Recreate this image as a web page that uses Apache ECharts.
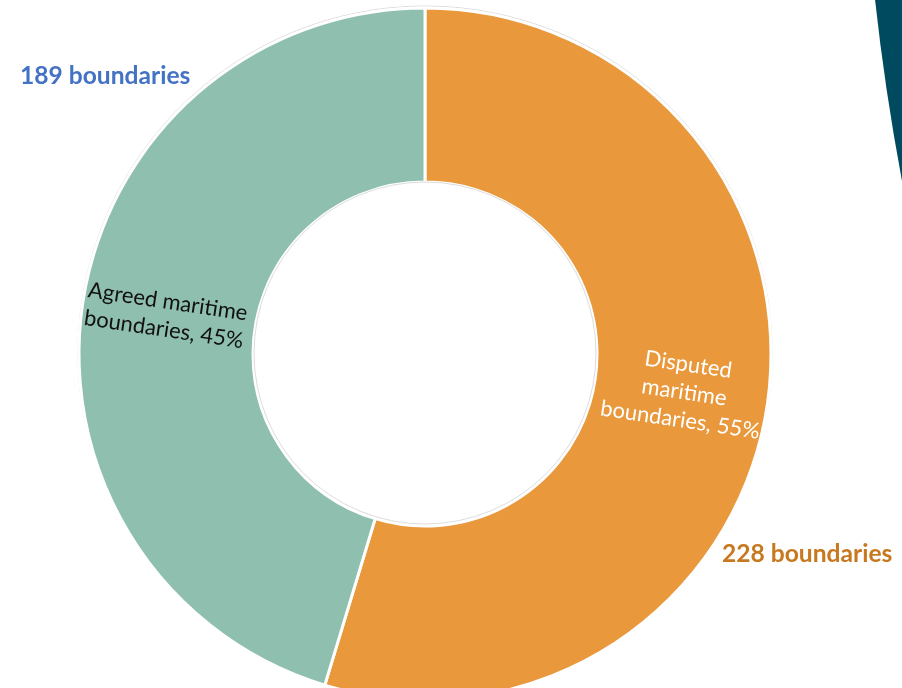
<!DOCTYPE html>
<html><head><meta charset="utf-8">
<script src="https://cdn.jsdelivr.net/npm/echarts@6/dist/echarts.min.js"></script>
<style>html,body{margin:0;padding:0;background:#fff}#c{width:902px;height:688px}</style>
</head><body><div id="c"></div>
<script>
const categories = ['Disputed\nmaritime\nboundaries', 'Agreed maritime\nboundaries'];
const counts = [228, 189];
const sliceColors = ['#e9983c', '#8fbfae'];
const labelColors = ['#ffffff', '#111111'];
const countLabels = ['228 boundaries', '189 boundaries'];

const chart = echarts.init(document.getElementById('c'), null, {renderer: 'canvas'});
const FONT = 'Lato, "Open Sans", sans-serif';
chart.setOption({
  animation: false,
  graphic: [
    {type: 'circle', shape: {cx: 3231, cy: -258, r: 2370}, style: {fill: '#004a60'}, z: 0},
    {type: 'circle', shape: {cx: 425, cy: 353, r: 347}, style: {fill: 'none', stroke: '#dcdcdc', lineWidth: 1}, z: 0},
    {type: 'circle', shape: {cx: 425, cy: 353, r: 171}, style: {fill: 'none', stroke: '#dcdcdc', lineWidth: 1}, z: 10},
    {type: 'text', left: 20, top: 64, style: {text: countLabels[1], fill: '#4472c4', font: 'bold 24.6px ' + FONT}, z: 20},
    {type: 'text', left: 722, top: 542, style: {text: countLabels[0], fill: '#c8781f', font: 'bold 24.6px ' + FONT}, z: 20}
  ],
  series: [{
    type: 'pie',
    center: [425, 354],
    radius: [172, 346],
    startAngle: 90,
    clockwise: true,
    percentPrecision: 0,
    avoidLabelOverlap: false,
    itemStyle: {borderColor: '#ffffff', borderWidth: 3},
    label: {
      show: true,
      position: 'inside',
      rotate: 'radial',
      fontFamily: FONT,
      fontSize: 22,
      lineHeight: 28,
      align: 'center',
      formatter: p => p.name + ', ' + p.percent + '%'
    },
    labelLine: {show: false},
    emphasis: {disabled: true},
    data: categories.map((n, i) => ({
      name: n, value: counts[i],
      itemStyle: {color: sliceColors[i]},
      label: {color: labelColors[i]}
    }))
  }]
});
</script></body></html>
